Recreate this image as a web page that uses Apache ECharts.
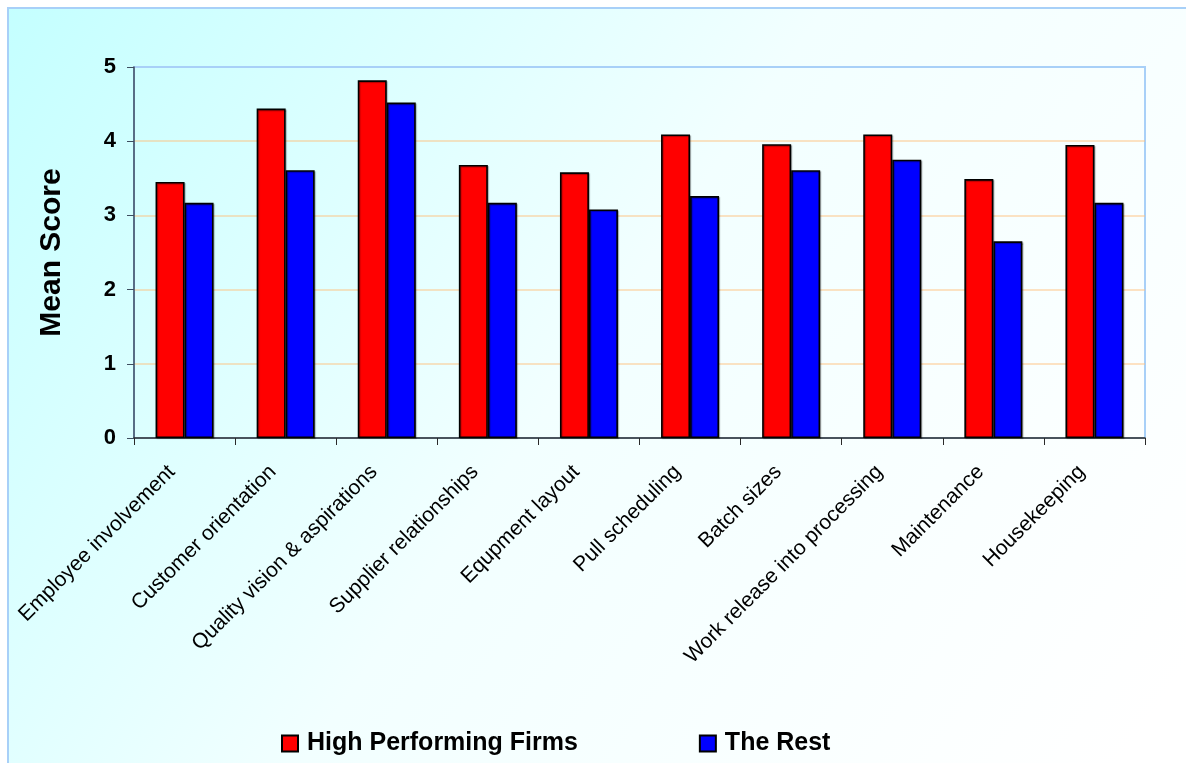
<!DOCTYPE html>
<html>
<head>
<meta charset="utf-8">
<script src="https://cdn.jsdelivr.net/npm/echarts@6/dist/echarts.min.js"></script>
<style>
  html, body { margin: 0; padding: 0; background: #ffffff; }
  #chart { width: 1186px; height: 763px; }
</style>
</head>
<body>
<div id="chart"></div>
<script>
// Lean practice dimensions
const categories = [
  'Employee involvement',
  'Customer orientation',
  'Quality vision & aspirations',
  'Supplier relationships',
  'Equpment layout',
  'Pull scheduling',
  'Batch sizes',
  'Work release into processing',
  'Maintenance',
  'Housekeeping'
];

// Mean scores per group
const highPerforming = [3.45, 4.44, 4.82, 3.68, 3.58, 4.09, 3.96, 4.09, 3.49, 3.95];
const theRest        = [3.17, 3.61, 4.52, 3.17, 3.08, 3.26, 3.61, 3.75, 2.65, 3.17];

const seriesNames = ['High Performing Firms', 'The Rest'];
const yTicks = { min: 0, max: 5, interval: 1 };

const FONT = 'Liberation Sans, Arial, sans-serif';

const chart = echarts.init(document.getElementById('chart'), null, { renderer: 'canvas' });

const barBorder = { borderColor: '#000000', borderWidth: 1.6, shadowColor: 'rgba(0,0,0,0.3)', shadowBlur: 1, shadowOffsetX: 1, shadowOffsetY: 1 };

chart.setOption({
  backgroundColor: '#ffffff',
  animation: false,
  textStyle: { fontFamily: FONT },
  graphic: [{
    type: 'rect',
    z: -100,
    silent: true,
    shape: { x: 8, y: 8, width: 1300, height: 900 },
    style: {
      fill: {
        type: 'linear', x: 0, y: 0, x2: 0.85, y2: 0.85,
        colorStops: [
          { offset: 0, color: '#c4ffff' },
          { offset: 0.5, color: '#f2ffff' },
          { offset: 1, color: '#ffffff' }
        ]
      },
      stroke: '#a8d0f8',
      lineWidth: 2
    }
  }],
  grid: {
    left: 134, right: 41, top: 67, bottom: 325,
    show: true,
    borderColor: '#a8d0f8',
    borderWidth: 2,
    backgroundColor: 'transparent'
  },
  legend: {
    left: 276,
    top: 726,
    itemWidth: 16,
    itemHeight: 16,
    itemGap: 121,
    icon: 'rect',
    data: seriesNames,
    textStyle: { fontFamily: FONT, fontSize: 25, fontWeight: 'bold', color: '#000', padding: [0, 0, 0, 4] }
  },
  xAxis: {
    type: 'category',
    data: categories,
    axisLine: { show: true, lineStyle: { color: '#2a2a2a', width: 1.5 } },
    axisTick: { show: true, length: 7, lineStyle: { color: '#2a2a2a', width: 1 } },
    axisLabel: {
      rotate: 45,
      interval: 0,
      margin: 18,
      padding: [0, 18, 0, 0],
      fontFamily: FONT,
      fontSize: 21,
      color: '#000'
    },
    splitLine: { show: false }
  },
  yAxis: {
    type: 'value',
    min: yTicks.min,
    max: yTicks.max,
    interval: yTicks.interval,
    name: 'Mean Score',
    nameLocation: 'middle',
    nameRotate: 90,
    nameGap: 67,
    nameTextStyle: { fontFamily: FONT, fontSize: 30, fontWeight: 'bold', color: '#000' },
    axisLine: { show: true, lineStyle: { color: '#3e4e60', width: 1.5 } },
    axisTick: { show: true, length: 7, lineStyle: { color: '#3e4e60', width: 1 } },
    axisLabel: { margin: 18, fontFamily: FONT, fontSize: 22, fontWeight: 'bold', color: '#000' },
    splitLine: {
      show: true,
      showMinLine: false,
      showMaxLine: false,
      lineStyle: { color: 'rgba(255,190,120,0.6)', width: 1.5 }
    }
  },
  series: [
    {
      name: seriesNames[0],
      type: 'bar',
      data: highPerforming,
      barWidth: 29,
      barGap: '0%',
      itemStyle: Object.assign({ color: '#ff0000' }, barBorder)
    },
    {
      name: seriesNames[1],
      type: 'bar',
      data: theRest,
      barWidth: 29,
      barGap: '0%',
      itemStyle: Object.assign({ color: '#0000ff' }, barBorder)
    }
  ]
});
</script>
</body>
</html>
